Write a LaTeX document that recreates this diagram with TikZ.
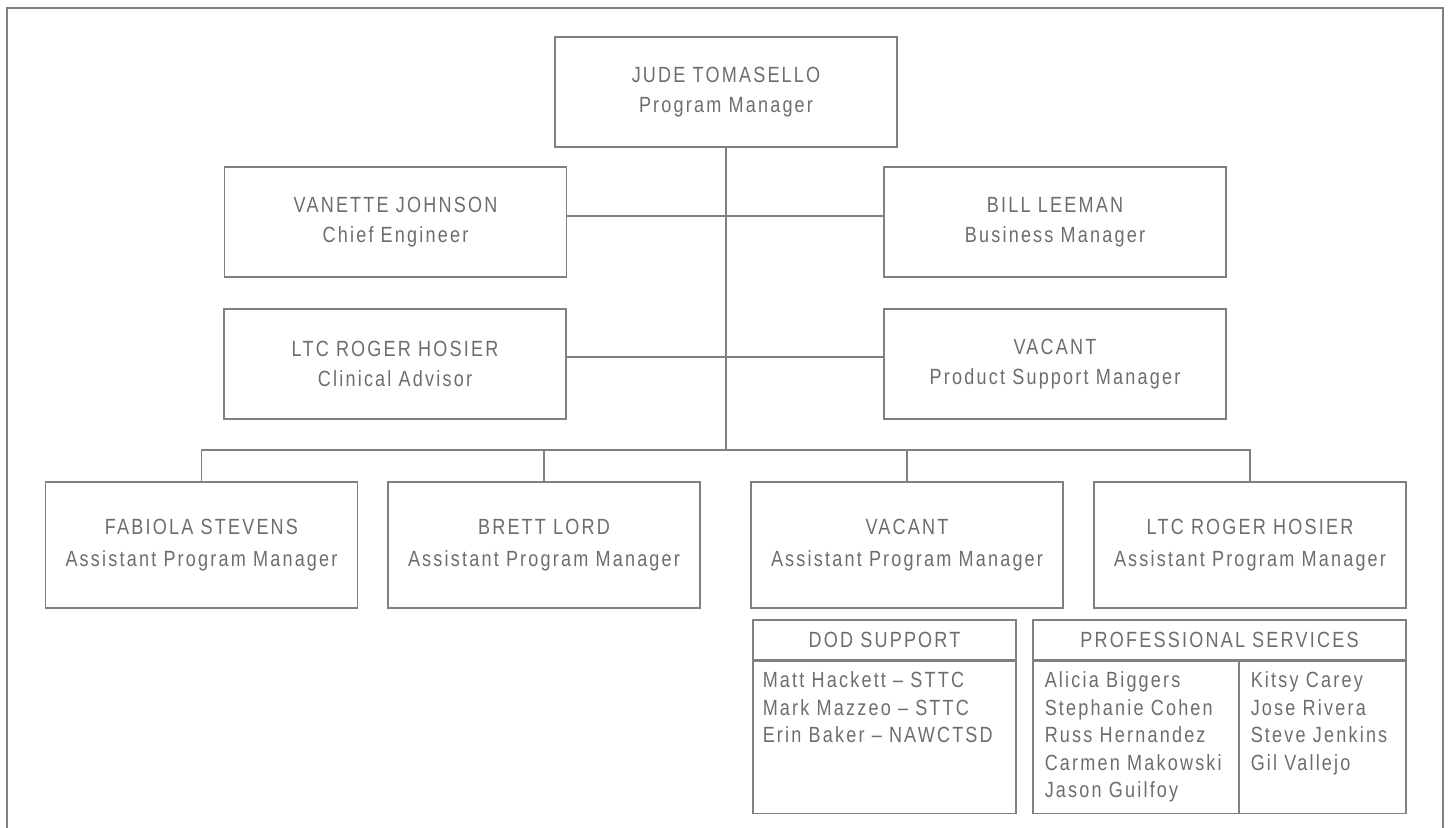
\documentclass[tikz,border=0pt]{standalone}
\usepackage{fontspec}
\setmainfont[FakeStretch=0.82,LetterSpace=10]{Liberation Sans}
\usepackage{tikz}
\usetikzlibrary{positioning,calc}
\definecolor{orggray}{RGB}{108,109,113}
\definecolor{linegray}{RGB}{128,128,131}
\tikzset{
  orgbox/.style={rectangle,draw=linegray,line width=0.65pt,text=orggray,align=center,
    minimum width=171pt,minimum height=55pt,inner sep=0pt,font=\fontsize{11}{15}\selectfont,
    execute at begin node={\rule{0pt}{11pt}}},
  apmbox/.style={orgbox,minimum width=156pt,minimum height=63pt,font=\fontsize{11}{16}\selectfont},
  listbox/.style={rectangle,draw=linegray,line width=0.65pt,inner sep=0pt,text=orggray,
    font=\fontsize{11}{13.7}\selectfont},
  listtext/.style={anchor=north west,inner sep=0pt,text=orggray,align=left,
    font=\fontsize{11}{13.7}\selectfont},
  link/.style={draw=linegray,line width=0.65pt}
}

\begin{document}
\begin{tikzpicture}[x=0.5pt,y=-0.5pt]
            \useasboundingbox (0,0) rectangle (1449,828);
            \draw[linegray,line width=1pt] (7,828) -- (7,8) -- (1443,8) -- (1443,828);
            % top of the tree
            \node[orgbox] (jude) at (726,92) {JUDE TOMASELLO\\Program Manager};
            \node[orgbox] (vanette) at (395.5,222) {VANETTE JOHNSON\\Chief Engineer};
            \node[orgbox] (bill) at (1055,222) {BILL LEEMAN\\Business Manager};
            \node[orgbox] (roger) at (395,364) {LTC ROGER HOSIER\\Clinical Advisor};
            \node[orgbox] (vacantpsm) at (1055,364) {VACANT\\Product Support Manager};
            % assistant program managers
            \node[apmbox] (fabiola) at (201.5,545) {FABIOLA STEVENS\\Assistant Program Manager};
            \node[apmbox] (brett) at (544,545) {BRETT LORD\\Assistant Program Manager};
            \node[apmbox] (vacantapm) at (907,545) {VACANT\\Assistant Program Manager};
            \node[apmbox] (rogerapm) at (1250,545) {LTC ROGER HOSIER\\Assistant Program Manager};
            \coordinate (bus) at (726,450);
            \draw[link] (jude.south) -- (bus);
            \draw[link] ([yshift=3pt]vanette.east) -- ([yshift=3pt]bill.west);
            \draw[link] ([yshift=3.5pt]roger.east) -- ([yshift=3.5pt]vacantpsm.west);
            \draw[link] (fabiola.north) |- (bus) -| (rogerapm.north);
            \draw[link] (brett.north) -- (brett.north |- bus);
            \draw[link] (vacantapm.north) -- (vacantapm.north |- bus);
            % support lists
            \node[listbox,minimum width=131.5pt,minimum height=20pt] (dodhead) at (884.5,640) {DOD SUPPORT};
            \node[listbox,minimum width=131.5pt,minimum height=76pt,anchor=north] (dodbody) at (dodhead.south) {};
            \node[listtext] (dodnames) at ($(dodbody.north west)+(5pt,-5.5pt)$)
                {Matt Hackett – STTC\\Mark Mazzeo – STTC\\Erin Baker – NAWCTSD};
            \node[listbox,minimum width=186.5pt,minimum height=20pt] (profhead) at (1219.5,640) {PROFESSIONAL SERVICES};
            \node[listbox,minimum width=103pt,minimum height=76pt,anchor=north west] (profleft) at (profhead.south west) {};
            \node[listbox,minimum width=83.5pt,minimum height=76pt,anchor=north east] (profright) at (profhead.south east) {};
            \node[listtext] (profnamesa) at ($(profleft.north west)+(6pt,-5.5pt)$)
                {Alicia Biggers\\Stephanie Cohen\\Russ Hernandez\\Carmen Makowski\\Jason Guilfoy};
            \node[listtext] (profnamesb) at ($(profright.north west)+(6pt,-5.5pt)$)
                {Kitsy Carey\\Jose Rivera\\Steve Jenkins\\Gil Vallejo};
        \end{tikzpicture}
\end{document}
